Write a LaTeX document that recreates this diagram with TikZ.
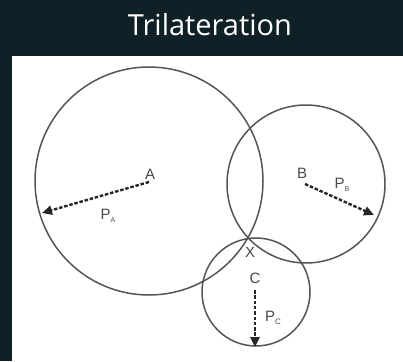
\documentclass[tikz,border=0pt]{standalone}
\usepackage{fontspec}
\setmainfont{Liberation Sans}
\newfontfamily\titlefont{Open Sans}
\usetikzlibrary{arrows.meta}
\definecolor{bgdark}{HTML}{102027}
\definecolor{circgray}{HTML}{555555}
\definecolor{arrgray}{HTML}{262626}
\definecolor{labgray}{HTML}{4A4A4A}
\tikzset{
  circ/.style={circle, draw=circgray, line width=1.5pt, inner sep=0pt},
  radarrow/.style={draw=arrgray, line width=2.4pt, dash pattern=on 3.5pt off 1.8pt,
     -{Triangle[length=10pt,width=9pt]}},
  lab/.style={text=labgray, font=\fontsize{15}{15}\selectfont, inner sep=0pt},
  plab/.style={text=labgray, font=\fontsize{15}{15}\selectfont, inner sep=0pt},
}
\begin{document}
\begin{tikzpicture}[x=1pt,y=-1pt]
\useasboundingbox (0,0) rectangle (403,361);
\fill[bgdark] (0,0) rectangle (403,361);
\fill[white] (12,56) rectangle (403,361);
\node[text=white, font=\titlefont\fontsize{29}{29}\selectfont, anchor=base] (title) at (210,36) {Trilateration};
% centres
\coordinate (A) at (149,182);
\coordinate (B) at (305,184);
\coordinate (C) at (255,290);
\coordinate (tA) at (42,213);
\coordinate (tB) at (374,215);
\coordinate (tC) at (255,347);
% circles
\node[circ, minimum size=228pt] (cA) at (149,181) {};
\node[circ, minimum size=158pt] (cB) at (306,184) {};
\node[circ, minimum size=108pt] (cC) at (256,292) {};
% radius arrows
\draw[radarrow] (A) -- (tA);
\draw[radarrow] (B) -- (tB);
\draw[radarrow] (C) -- (tC);
% labels
\node[lab] (lA) at (150,174) {A};
\node[lab] (lB) at (302,173) {B};
\node[lab] (lC) at (255,278) {C};
\node[lab] (lX) at (250,252) {X};
\node[plab] (pA) at (108,216) {P\raisebox{-3pt}{\fontsize{7}{7}\selectfont A}};
\node[plab] (pB) at (342,185) {P\raisebox{-3pt}{\fontsize{7}{7}\selectfont B}};
\node[plab] (pC) at (273,318) {P\raisebox{-3pt}{\fontsize{8}{8}\selectfont C}};
\end{tikzpicture}
\end{document}
